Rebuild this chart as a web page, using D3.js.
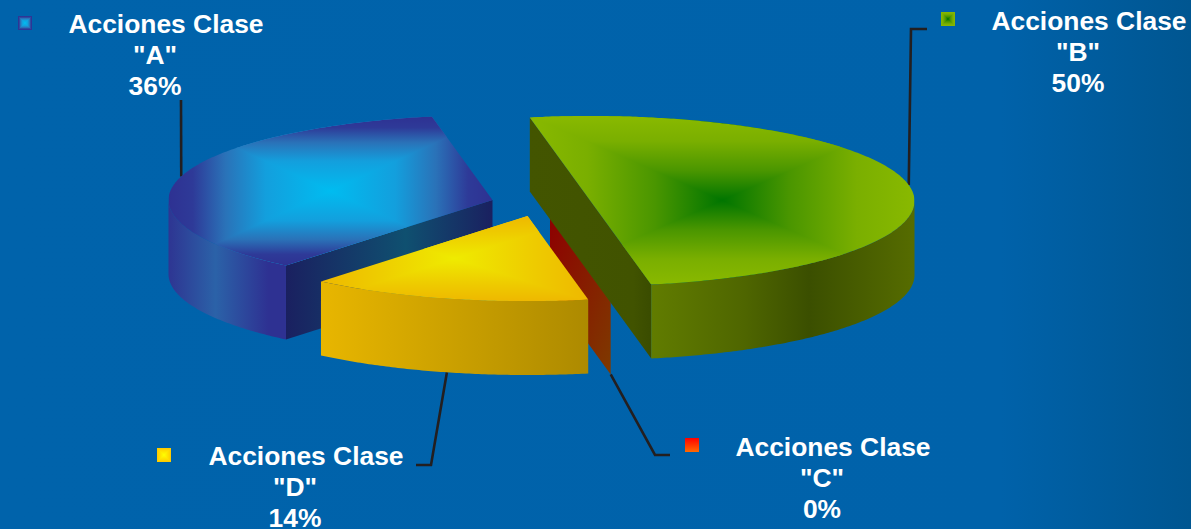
<!DOCTYPE html>
<html>
  <head>
    <meta charset="utf-8" />
    <style>
      html, body { margin: 0; padding: 0; background: #0063ab; overflow: hidden; }
      svg { display: block; }
      text { font-family: "Liberation Sans", Arial, sans-serif; font-weight: bold; fill: #fff; }
    </style>
  </head>
  <body>
    <svg id="chart"></svg>
    <script src="https://d3js.org/d3.v7.js"></script>
    <script>
      // chart values, in the order the slices go round the pie
      var classes = ["B", "C", "D", "A"];
      var shares = [50, 0, 14, 36];
      var labelPrefix = "Acciones Clase";

      var width = 1191, height = 529;

      // pie shape
      var rx = 324, ry = 85, depth = 74;
      var firstAngle = -10.8 * Math.PI / 180;

      // every slice is pulled out on its own
      var centres = { B: [590.5, 201], C: [550, 217], D: [527.5, 216], A: [492.5, 200] };

      var labelAt = { A: [166, 33], B: [1089, 30], C: [833, 456], D: [306, 465] };
      var swatchAt = { A: [18, 16], B: [941, 12], C: [685, 438], D: [157, 448] };
      var leaderTail = {
        A: [[181, 100]],
        B: [[911, 29], [927, 29]],
        C: [[655, 455], [670, 455]],
        D: [[431, 465], [416, 465]]
      };
      var leaderNudge = { A: 0.03, B: 0, C: 0, D: 0 };

      var topStops = {
        A: [[0, "#00bcf0"], [0.4, "#139fdd"], [0.65, "#2a72b8"], [0.85, "#2e3a98"], [1, "#2e3192"]],
        B: [[0, "#007500"], [0.35, "#4a9600"], [0.7, "#7aaf00"], [1, "#89b900"]],
        D: [[0, "#efeb00"], [0.6, "#eecb00"], [1, "#eeb800"]]
      };
      var swatchStops = {
        A: topStops.A,
        B: topStops.B,
        D: [[0, "#ffff00"], [1, "#ffc800"]]
      };
      var wallStops = {
        A: [[0, "#2e3592"], [0.4, "#2b62a8"], [0.85, "#2e3192"], [1, "#2e3192"]],
        B: [[0, "#617c00"], [0.35, "#4f6600"], [0.6, "#3b4f00"], [1, "#566c00"]],
        D: [[0, "#e8b600"], [0.45, "#cda200"], [1, "#ad8a00"]]
      };
      var faceStops = {
        A: [[0, "#1a2060"], [0.58, "#0f5070"], [1, "#1a2060"]],
        B: [[0, "#435500"], [0.85, "#415300"], [1, "#3a4c00"]],
        C: [[0, "#8e0000"], [1, "#7e3a00"]]
      };

      var svg = d3.select("#chart").attr("width", width).attr("height", height);
      var defs = svg.append("defs");

      var xScale = d3.scaleLinear().domain([-1, 1]).range([-rx, rx]);
      var yScale = d3.scaleLinear().domain([-1, 1]).range([-ry, ry]);

      var pie = d3.pie().sort(null)
        .startAngle(firstAngle)
        .endAngle(firstAngle + 2 * Math.PI);
      var slices = pie(shares).map(function (d, i) {
        return { name: classes[i], start: d.startAngle, end: d.endAngle, c: centres[classes[i]] };
      });
      var byName = {};
      slices.forEach(function (s) { byName[s.name] = s; });

      function onRim(s, angle, drop) {
        return [s.c[0] + xScale(Math.sin(angle)), s.c[1] + yScale(-Math.cos(angle)) + (drop || 0)];
      }
      function anglesBetween(a, b) {
        var n = Math.max(2, Math.ceil(Math.abs(b - a) / 0.01));
        return d3.range(n + 1).map(function (i) { return a + (b - a) * i / n; });
      }
      var line = d3.line();

      var gradientCount = 0;
      function addGradient(stops, x1, y1, x2, y2, units) {
        var id = "grad" + (gradientCount++);
        var g = defs.append("linearGradient").attr("id", id)
          .attr("gradientUnits", units || "objectBoundingBox")
          .attr("x1", x1).attr("y1", y1).attr("x2", x2).attr("y2", y2);
        stops.forEach(function (st) {
          g.append("stop").attr("offset", st[0]).attr("stop-color", st[1]);
        });
        return "url(#" + id + ")";
      }

      // the rectangular "path" gradient: colour runs from the centre out to the box edges
      function boxGradient(parent, x0, y0, x1, y1, stops) {
        var cx = (x0 + x1) / 2, cy = (y0 + y1) / 2;
        parent.append("rect").attr("x", x0).attr("y", y0).attr("width", cx - x0 + 0.5).attr("height", y1 - y0)
          .attr("fill", addGradient(stops, cx, 0, x0, 0, "userSpaceOnUse"));
        parent.append("rect").attr("x", cx - 0.5).attr("y", y0).attr("width", x1 - cx + 0.5).attr("height", y1 - y0)
          .attr("fill", addGradient(stops, cx, 0, x1, 0, "userSpaceOnUse"));
        parent.append("path").attr("d", line([[x0, y0], [x1, y0], [cx, cy]]) + "Z")
          .attr("fill", addGradient(stops, 0, cy, 0, y0, "userSpaceOnUse"));
        parent.append("path").attr("d", line([[x0, y1], [x1, y1], [cx, cy]]) + "Z")
          .attr("fill", addGradient(stops, 0, cy, 0, y1, "userSpaceOnUse"));
      }

      // background
      svg.append("rect").attr("width", width).attr("height", height)
        .attr("fill", addGradient([[0, "#0063ab"], [0.84, "#0062aa"], [1, "#005691"]], 0, 0, 1, 0));

      // leader lines run from the rim of the slice out to the label
      function leaderStart(s) {
        if (s.name == "C") return onRim(s, s.end, depth);
        var mid = (s.start + s.end) / 2 + leaderNudge[s.name];
        return onRim(s, mid, s.name == "D" ? depth : 0);
      }
      svg.append("g").selectAll("path").data(slices).enter().append("path")
        .attr("d", function (s) { return line([leaderStart(s)].concat(leaderTail[s.name])); })
        .attr("fill", "none").attr("stroke", "#231f20").attr("stroke-width", 2.6);

      // flat cut face between two rim points, the shading runs along (gx, gy)
      function drawFace(parent, a, b, stops, gx, gy) {
        parent.append("path")
          .attr("d", line([a, b, [b[0], b[1] + depth], [a[0], a[1] + depth]]) + "Z")
          .attr("fill", addGradient(stops, 0, 0, gx, gy));
      }
      // front part of the curved wall
      function drawWall(parent, s, a, b) {
        var upper = anglesBetween(a, b).map(function (t) { return onRim(s, t); });
        var lower = anglesBetween(b, a).map(function (t) { return onRim(s, t, depth); });
        parent.append("path").attr("d", line(upper.concat(lower)) + "Z")
          .attr("fill", addGradient(wallStops[s.name], 0, 0, 1, 0));
      }
      function drawTop(parent, s) {
        var pts = anglesBetween(s.start, s.end).map(function (t) { return onRim(s, t); });
        var outline = pts.slice();
        if (s.end - s.start < Math.PI - 0.001) outline.push(s.c);
        var id = "clip" + s.name;
        defs.append("clipPath").attr("id", id).append("path").attr("d", line(outline) + "Z");
        var xs = d3.extent(outline, function (p) { return p[0]; });
        var ys = d3.extent(outline, function (p) { return p[1]; });
        var g = parent.append("g").attr("clip-path", "url(#" + id + ")");
        boxGradient(g, xs[0], ys[0], xs[1], ys[1], topStops[s.name]);
      }

      var pieGroup = svg.append("g");

      // back to front: A, then the empty C, then D, then B
      var a = byName.A, b = byName.B, c = byName.C, d = byName.D;

      drawWall(pieGroup, a, a.start, 1.5 * Math.PI);
      drawFace(pieGroup, onRim(a, a.start), a.c, faceStops.A, 1, 0);
      drawTop(pieGroup, a);

      drawFace(pieGroup, c.c, onRim(c, c.start), faceStops.C, 1, 1);

      drawWall(pieGroup, d, d.start, d.end);
      drawTop(pieGroup, d);

      drawFace(pieGroup, onRim(b, b.start), onRim(b, b.end), faceStops.B, 1, 0);
      drawWall(pieGroup, b, Math.PI / 2, b.end);
      drawTop(pieGroup, b);

      // swatches
      var swatchSize = 14;
      slices.forEach(function (s) {
        var p = swatchAt[s.name];
        var g = svg.append("g");
        if (s.name == "C") {
          g.append("rect").attr("x", p[0]).attr("y", p[1]).attr("width", swatchSize).attr("height", swatchSize)
            .attr("fill", addGradient([[0, "#ff0000"], [1, "#ff6a00"]], 0, 0, 0, 1));
        } else {
          boxGradient(g, p[0], p[1], p[0] + swatchSize, p[1] + swatchSize, swatchStops[s.name]);
        }
      });

      // labels, the first line sits a little to the right of the other two
      var labels = svg.append("g").attr("font-size", 26.4).attr("text-anchor", "middle");
      slices.forEach(function (s, i) {
        var p = labelAt[s.name];
        var t = labels.append("text").attr("x", p[0]).attr("y", p[1]);
        [labelPrefix, '"' + s.name + '"', shares[i] + "%"].forEach(function (txt, k) {
          t.append("tspan").attr("x", k == 0 ? p[0] : p[0] - 11).attr("y", p[1] + k * 31).text(txt);
        });
      });
    </script>
  </body>
</html>
